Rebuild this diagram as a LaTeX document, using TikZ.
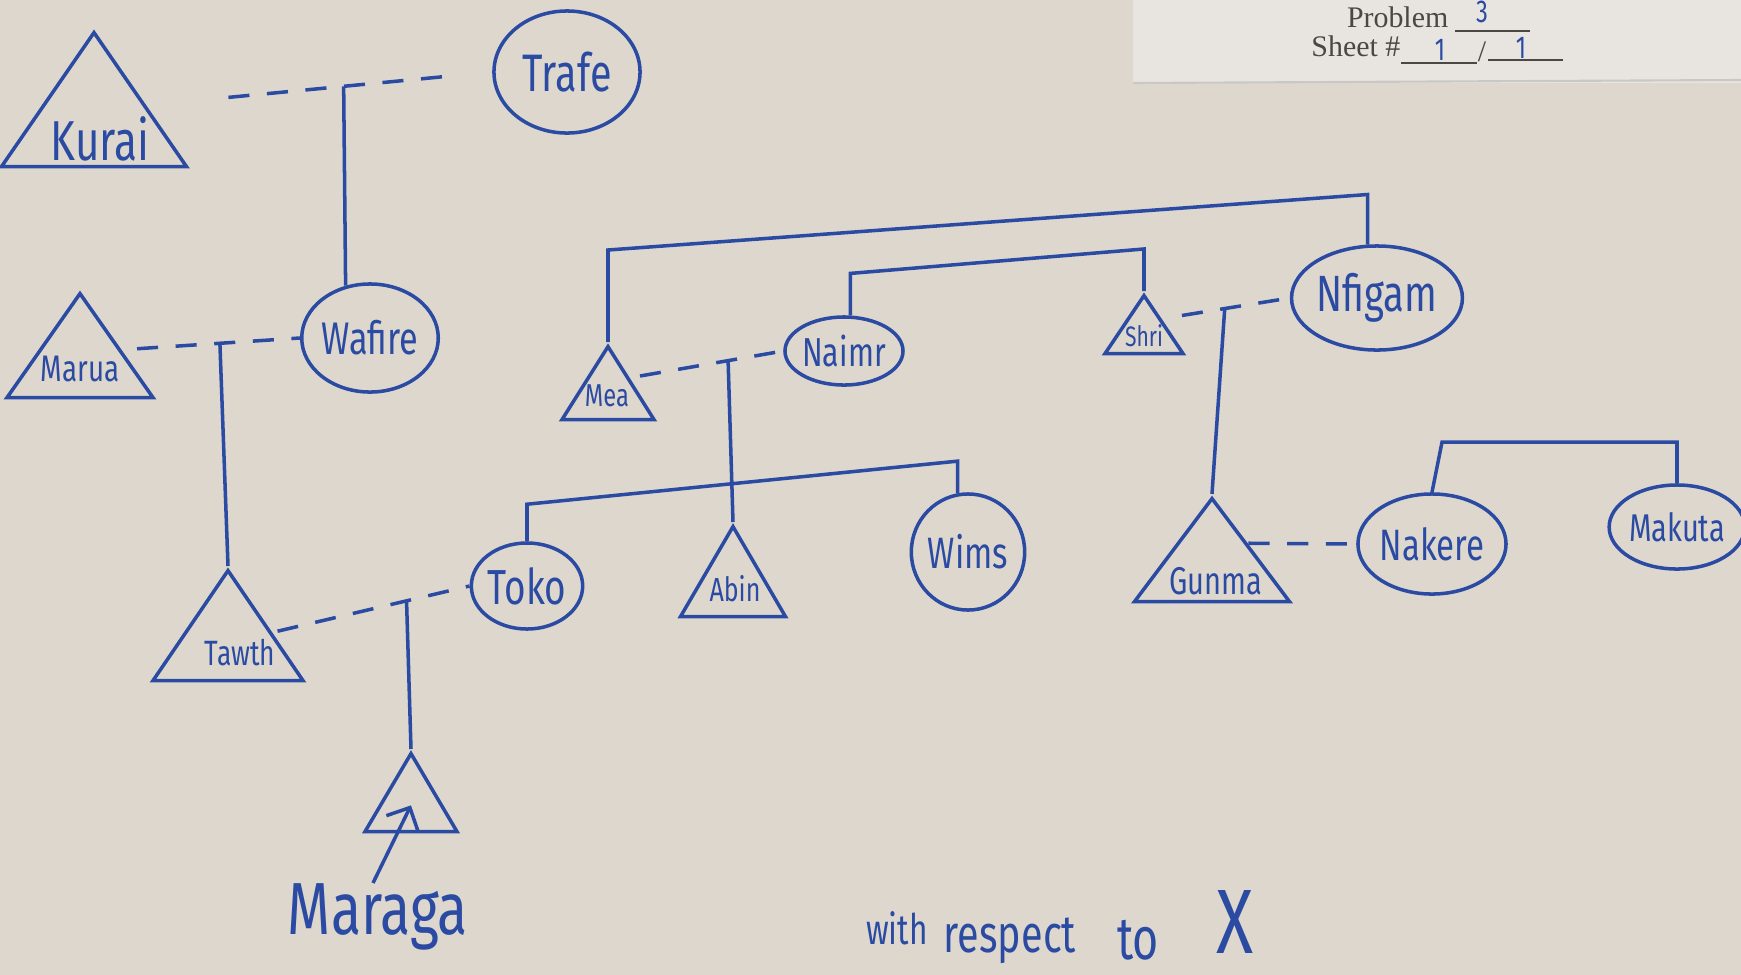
\documentclass[tikz,border=0pt]{standalone}
\usepackage{fontspec}
\setmainfont{Liberation Serif}
\newfontfamily\handfont{Fira Sans}[FakeStretch=0.75]
\usetikzlibrary{shapes.geometric,arrows.meta,calc}
\definecolor{ink}{HTML}{2B4BA3}
\definecolor{paper}{HTML}{DDD7CE}
\definecolor{slip}{HTML}{E8E5E0}
\definecolor{print}{HTML}{4A4744}

\begin{document}
\begin{tikzpicture}[
  x=0.01cm,y=-0.01cm,
  hw/.style={font=\handfont\fontsize{#1}{#1}\selectfont},
  male/.style={isosceles triangle,shape border rotate=90,isosceles triangle stretches,draw=ink,line width=1pt,inner sep=0pt,anchor=apex},
  female/.style={ellipse,draw=ink,line width=1pt,text=ink,inner sep=0pt},
  hand/.style={text=ink,inner sep=0pt},
  wed/.style={draw=ink,line width=1pt,dash pattern=on 6pt off 5pt},
  kin/.style={draw=ink,line width=1pt},
  typed/.style={text=print,inner sep=0pt,font=\fontsize{8.5}{9}\selectfont},
  >={Straight Barb[length=5pt]}
]
\useasboundingbox[fill=paper] (0,0) rectangle (1741,975);
\fill[slip] (1133,0) rectangle (1741,83);
\draw[print!30,line width=.6pt] (1133,83) -- (1741,80);

% header slip
\node[typed,anchor=base east] (prob) at (1449,27) {Problem};
\node[typed,anchor=base east] (sheet) at (1401,56) {Sheet \#};
\draw[print,line width=.5pt] (prob.base east) ++(6,4) -- ++(75,0);
\draw[print,line width=.5pt] (sheet.base east) ++(0,7) -- ++(76,0) node[typed,anchor=south west] (slash) {/} ++(11,-3) -- ++(75,0);
\node[hand,hw=9] (probno) at (1482,12) {3};
\node[hand,hw=9] (sheetno) at (1440,50) {1};
\node[hand,hw=9] (sheetof) at (1521,48) {1};

% people
\node[male,minimum width=1.85cm,minimum height=1.34cm] (kurai) at (94,28) {};
\node[hand,hw=16] (kurai-name) at (100,139) {Kurai};
\node[female,minimum width=1.46cm,minimum height=1.22cm,hw=15] (trafe) at (567,72) {Trafe};
\node[male,minimum width=1.46cm,minimum height=1.04cm] (marua) at (80,289) {};
\node[hand,hw=10.5] (marua-name) at (80,369) {Marua};
\node[female,minimum width=1.36cm,minimum height=1.08cm,hw=13] (wafire) at (370,338) {Wafire};
\node[male,minimum width=1.5cm,minimum height=1.1cm] (tawth) at (228,566) {};
\node[hand,hw=10] (tawth-name) at (240,653) {Tawth};
\node[female,minimum width=0.98cm,minimum height=0.86cm,hw=14] (toko) at (527,586) {Toko};
\node[male,minimum width=0.92cm,minimum height=0.78cm] (maraga) at (411,749) {};
\node[hand,hw=21] (maraga-name) at (378,917) {Maraga};
\node[male,minimum width=0.92cm,minimum height=0.73cm] (mea) at (608,342) {};
\node[hand,hw=9] (mea-name) at (607,396) {Mea};
\node[female,minimum width=0.9cm,minimum height=0.68cm,hw=11.5] (naimr) at (844,351) {Naimr};
\node[male,minimum width=1.05cm,minimum height=0.9cm] (abin) at (733,522) {};
\node[hand,hw=9.5] (abin-name) at (735,589) {Abin};
\node[female,minimum width=1cm,minimum height=1.16cm,hw=12.5] (wims) at (968,552) {Wims};
\node[male,minimum width=0.78cm,minimum height=0.58cm] (shri) at (1144,291) {};
\node[hand,hw=8] (shri-name) at (1144,336) {Shri};
\node[female,minimum width=1.5cm,minimum height=1.04cm,hw=14.5] (nfigam) at (1377,298) {Nfigam};
\node[male,minimum width=1.55cm,minimum height=1.03cm] (gunma) at (1212,494) {};
\node[hand,hw=11] (gunma-name) at (1216,581) {Gunma};
\node[female,minimum width=1.16cm,minimum height=1cm,hw=12.5] (nakere) at (1432,544) {Nakere};
\node[female,minimum width=0.94cm,minimum height=0.84cm,hw=11] (makuta) at (1677,527) {Makuta};

% marriages and descent
\draw[wed,shorten <=.82cm,shorten >=.33cm] ($(kurai.apex)!.55!(kurai.right corner)$) -- coordinate[pos=.57] (kt) (trafe.west);
\draw[kin] (kt) -- (wafire.115);
\draw[wed,shorten <=.15cm] ($(marua.apex)!.55!(marua.right corner)$) -- coordinate[pos=.55] (mw) (wafire.west);
\draw[kin] (mw) -- (tawth.apex);
\draw[wed,shorten <=.05cm] ($(tawth.apex)!.57!(tawth.right corner)$) -- coordinate[pos=.68] (tt) (toko.west);
\draw[kin] (tt) -- (maraga.apex);
\draw[kin,->] ([xshift=-.05cm]maraga-name.north) -- (maraga.center);
\draw[wed,shorten <=.1cm] ($(mea.apex)!.45!(mea.right corner)$) -- coordinate[pos=.64] (mn) (naimr.west);
\draw[kin] (mn) -- (abin.apex);
\draw[wed,shorten <=.2cm] ($(shri.apex)!.43!(shri.right corner)$) -- coordinate[pos=.49] (sn) (nfigam.west);
\draw[kin] (sn) -- (gunma.apex);
\draw[wed] ($(gunma.apex)!.45!(gunma.right corner)$) -- (nakere.west);

% siblings
\draw[kin] (toko.north) -- ++(0,-37) -- ([yshift=.32cm]wims.100) -- (wims.100);
\draw[kin] (mea.apex) -- ++(0,-92) -- ([yshift=.5cm]nfigam.100) -- (nfigam.100);
\draw[kin] (naimr.80) -- ++(0,-42) -- ([yshift=.42cm]shri.apex) -- (shri.apex);
\draw[kin] (nakere.north) -- ++(10,-50) -- ([yshift=.41cm]makuta.north) -- (makuta.north);

% note at the foot
\node[hand,hw=12] (with) at (897,928) {with};
\node[hand,hw=15,anchor=base] (resp) at (1010,952) {respect};
\node[hand,hw=17] (to) at (1138,940) {to};
\node[hand,hw=26] (xx) at (1235,922) {X};
\end{tikzpicture}
\end{document}
